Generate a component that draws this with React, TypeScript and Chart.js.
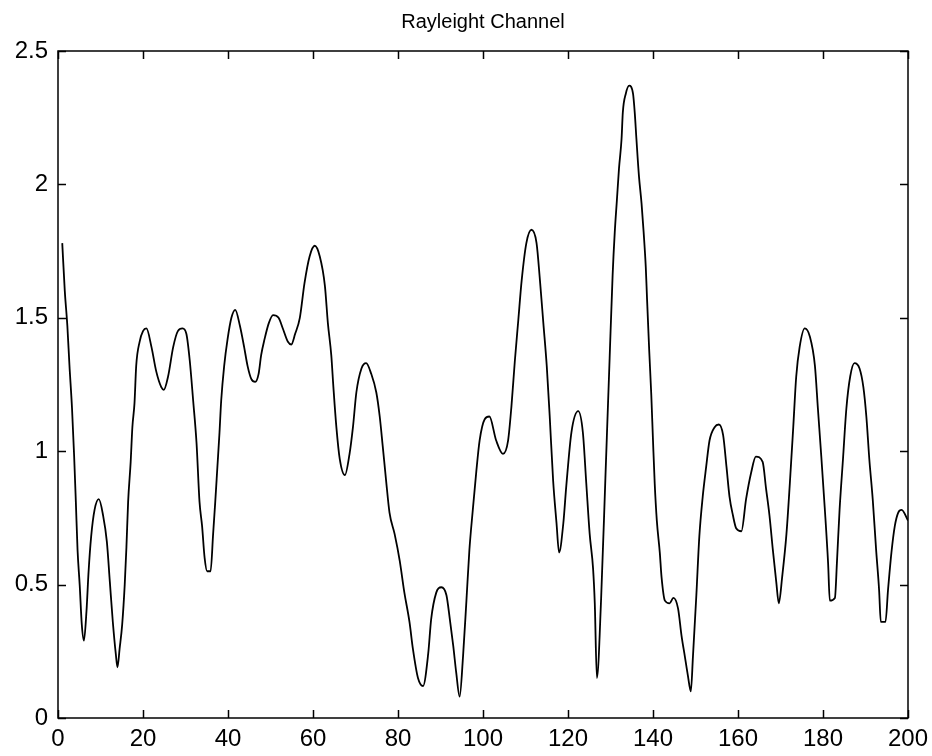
import React, { useEffect, useRef } from "react";
import { Chart, registerables } from "chart.js";

Chart.register(...registerables);

const titleText = "Rayleight Channel";

const sampleIndex: number[] = [
  1.0, 1.6, 2.2, 2.7, 3.3, 3.8, 4.2, 4.6, 5.1, 5.6, 6.1, 6.7, 7.2, 7.8, 8.6, 9.6,
  10.6, 11.5, 12.2, 12.9, 13.6, 14.0, 14.5, 15.1, 15.7, 16.1, 16.5, 17.1, 17.5, 18.0,
  18.4, 19.2, 20.0, 20.8, 22.0, 23.1, 24.3, 24.9, 25.9, 27.1, 28.2, 29.3, 30.2, 31.0,
  31.8, 32.6, 33.3, 33.9, 34.5, 35.1, 35.9, 36.5, 37.0, 37.5, 38.0, 38.4, 39.1, 39.9,
  40.8, 41.7, 42.8, 43.8, 44.6, 45.5, 46.4, 47.2, 47.8, 48.6, 49.6, 50.6, 51.9, 52.9,
  54.1, 54.9, 55.8, 56.9, 58.0, 59.2, 60.4, 61.6, 62.8, 63.5, 64.3, 64.8, 65.5, 66.3,
  67.5, 68.6, 69.4, 70.2, 71.4, 72.5, 73.7, 74.9, 75.7, 76.4, 77.2, 78.0, 79.2, 80.4,
  81.5, 82.7, 83.5, 84.7, 85.9, 87.1, 87.8, 89.0, 90.2, 91.4, 92.2, 93.0, 93.7, 94.5,
  95.3, 96.1, 96.8, 97.6, 98.4, 99.2, 100.4, 101.5, 103.1, 104.7, 105.9, 106.7, 107.5,
  108.3, 109.1, 110.2, 111.4, 112.6, 113.4, 114.2, 115.0, 115.7, 116.5, 117.3, 117.9,
  118.9, 119.6, 120.8, 122.4, 123.5, 124.3, 125.1, 125.9, 126.3, 126.8, 127.8, 128.8,
  129.8, 130.5, 131.0, 131.5, 132.0, 132.6, 132.9, 133.6, 134.4, 135.3, 135.7, 136.1,
  136.7, 137.3, 137.8, 138.3, 138.6, 139.1, 139.6, 140.0, 140.4, 140.9, 141.6, 142.0,
  142.8, 143.9, 144.8, 145.9, 146.7, 147.5, 148.2, 148.9, 149.4, 150.2, 150.9, 151.7,
  152.5, 153.3, 154.5, 155.5, 156.5, 157.3, 158.0, 158.8, 159.6, 160.8, 161.9, 163.1,
  164.2, 165.8, 166.6, 167.4, 168.2, 169.0, 169.6, 170.4, 171.4, 172.2, 173.0, 173.7,
  174.5, 175.7, 176.9, 178.1, 178.8, 179.6, 180.4, 181.2, 181.6, 182.8, 183.3, 183.9,
  184.7, 185.5, 186.4, 187.4, 188.6, 189.5, 190.2, 190.9, 191.7, 192.5, 193.2, 193.6,
  194.7, 195.3, 196.1, 196.9, 197.7, 198.5, 200.0,
];

const channelGain: number[] = [
  1.78, 1.6, 1.47, 1.32, 1.16, 0.98, 0.81, 0.63, 0.5, 0.35, 0.29, 0.4, 0.55, 0.68, 0.78, 0.82,
  0.76, 0.66, 0.51, 0.36, 0.24, 0.19, 0.26, 0.35, 0.5, 0.64, 0.81, 0.96, 1.09, 1.18,
  1.32, 1.41, 1.45, 1.46, 1.39, 1.3, 1.24, 1.23, 1.28, 1.39, 1.45, 1.46, 1.44, 1.34,
  1.19, 1.03, 0.81, 0.72, 0.6, 0.55, 0.55, 0.69, 0.81, 0.94, 1.07, 1.19, 1.32, 1.42,
  1.5, 1.53, 1.47, 1.39, 1.32, 1.27, 1.26, 1.29, 1.36, 1.42, 1.48, 1.51, 1.5, 1.46,
  1.41, 1.4, 1.44, 1.5, 1.63, 1.73, 1.77, 1.73, 1.62, 1.48, 1.36, 1.24, 1.09, 0.97,
  0.91, 0.99, 1.09, 1.22, 1.31, 1.33, 1.29, 1.22, 1.13, 1.02, 0.89, 0.77, 0.69, 0.59,
  0.47, 0.36, 0.26, 0.15, 0.12, 0.24, 0.37, 0.47, 0.49, 0.46, 0.37, 0.27, 0.17, 0.08,
  0.23, 0.44, 0.63, 0.78, 0.92, 1.04, 1.12, 1.13, 1.04, 0.99, 1.04, 1.17, 1.34,
  1.49, 1.64, 1.78, 1.83, 1.78, 1.64, 1.48, 1.32, 1.13, 0.89, 0.73, 0.62,
  0.73, 0.87, 1.07, 1.15, 1.07, 0.88, 0.69, 0.56, 0.43, 0.15, 0.45, 0.9,
  1.35, 1.66, 1.82, 1.94, 2.06, 2.17, 2.27, 2.34, 2.37, 2.34, 2.27, 2.17,
  2.03, 1.93, 1.82, 1.69, 1.57, 1.38, 1.21, 1.04, 0.88, 0.74, 0.62, 0.53,
  0.44, 0.43, 0.45, 0.41, 0.31, 0.23, 0.16, 0.1, 0.23, 0.46, 0.68, 0.83,
  0.94, 1.04, 1.09, 1.1, 1.06, 0.94, 0.83, 0.76, 0.71, 0.7, 0.82, 0.92,
  0.98, 0.96, 0.86, 0.76, 0.63, 0.51, 0.43, 0.53, 0.69, 0.88, 1.09, 1.28,
  1.39, 1.46, 1.43, 1.32, 1.16, 0.98, 0.79, 0.58, 0.44, 0.45, 0.59, 0.78,
  0.97, 1.16, 1.28, 1.33, 1.31, 1.24, 1.13, 0.97, 0.82, 0.63, 0.48, 0.36,
  0.36, 0.48, 0.62, 0.72, 0.77, 0.78, 0.74,
];

const xTicks: number[] = [0, 20, 40, 60, 80, 100, 120, 140, 160, 180, 200];
const yTicks: number[] = [0, 0.5, 1, 1.5, 2, 2.5];

const FONT = "'Liberation Sans', Arial, Helvetica, sans-serif";

const boxPlugin = {
  id: "matlabBox",
  afterDraw(chart: any) {
    const { ctx, chartArea } = chart;
    const xs = chart.scales.x;
    const ys = chart.scales.y;
    const L = 8;
    ctx.save();
    ctx.strokeStyle = "#000";
    ctx.lineWidth = 1.5;
    ctx.strokeRect(chartArea.left, chartArea.top, chartArea.right - chartArea.left, chartArea.bottom - chartArea.top);
    ctx.beginPath();
    for (const v of xTicks) {
      const px = Math.round(xs.getPixelForValue(v)) + 0.5;
      ctx.moveTo(px, chartArea.bottom);
      ctx.lineTo(px, chartArea.bottom - L);
      ctx.moveTo(px, chartArea.top);
      ctx.lineTo(px, chartArea.top + L);
    }
    for (const v of yTicks) {
      const py = Math.round(ys.getPixelForValue(v)) + 0.5;
      ctx.moveTo(chartArea.left, py);
      ctx.lineTo(chartArea.left + L, py);
      ctx.moveTo(chartArea.right, py);
      ctx.lineTo(chartArea.right - L, py);
    }
    ctx.stroke();
    // title centred over the plot box
    ctx.fillStyle = "#000";
    ctx.font = `20px ${FONT}`;
    ctx.textAlign = "center";
    ctx.textBaseline = "middle";
    ctx.fillText(titleText, (chartArea.left + chartArea.right) / 2, chartArea.top - 29);
    ctx.restore();
  },
};

export default function App() {
  const canvasRef = useRef<HTMLCanvasElement | null>(null);

  useEffect(() => {
    if (!canvasRef.current) return;
    const points = sampleIndex.map((x, i) => ({ x, y: channelGain[i] }));
    const chart = new Chart(canvasRef.current, {
      type: "line",
      data: {
        datasets: [
          {
            data: points,
            borderColor: "#000",
            borderWidth: 1.8,
            pointRadius: 0,
            fill: false,
            cubicInterpolationMode: "monotone",
          },
        ],
      },
      options: {
        animation: false,
        responsive: false,
        maintainAspectRatio: false,
        layout: { padding: { left: 0, right: 24, top: 51, bottom: 0 } },
        plugins: {
          legend: { display: false },
          tooltip: { enabled: false },
          title: { display: false },
        },
        scales: {
          x: {
            type: "linear",
            min: 0,
            max: 200,
            grid: { display: false, drawTicks: false },
            border: { display: false },
            afterBuildTicks: (s: any) => {
              s.ticks = xTicks.map((v) => ({ value: v }));
            },
            afterFit: (s: any) => {
              s.height = 38;
              s.paddingLeft = 0;
              s.paddingRight = 24;
            },
            ticks: {
              color: "#000",
              padding: 7,
              maxRotation: 0,
              autoSkip: false,
              font: { family: FONT, size: 24 },
              callback: (v: any) => String(v),
            },
          },
          y: {
            type: "linear",
            min: 0,
            max: 2.5,
            grid: { display: false, drawTicks: false },
            border: { display: false },
            afterBuildTicks: (s: any) => {
              s.ticks = yTicks.map((v) => ({ value: v }));
            },
            afterFit: (s: any) => {
              s.width = 58;
            },
            ticks: {
              color: "#000",
              padding: 10,
              autoSkip: false,
              font: { family: FONT, size: 24 },
              callback: (v: any) => String(v),
            },
          },
        },
      },
      plugins: [boxPlugin],
    });
    return () => chart.destroy();
  }, []);

  return (
    <div style={{ position: "absolute", left: 0, top: 0, width: 932, height: 756, background: "#fff" }}>
      <canvas ref={canvasRef} width={932} height={756} style={{ display: "block" }} />
    </div>
  );
}
